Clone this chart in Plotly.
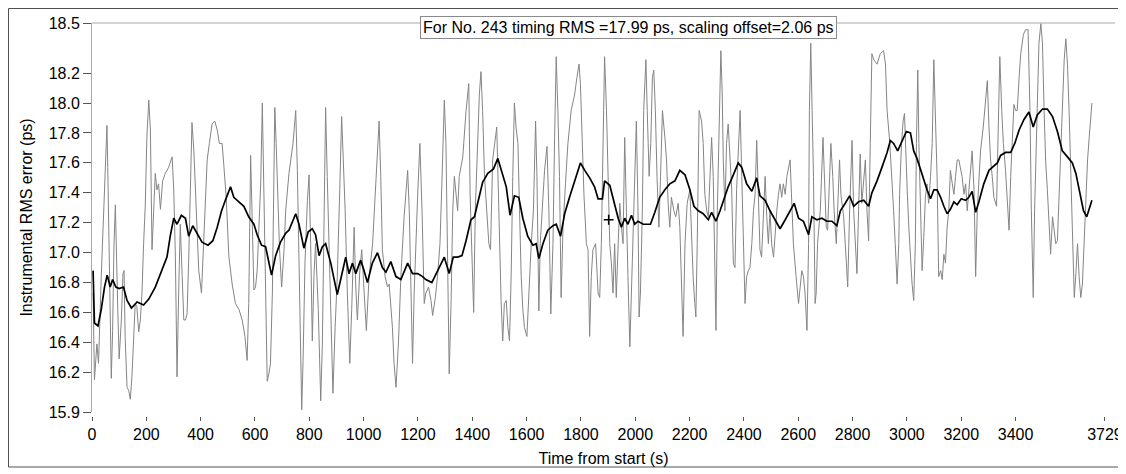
import plotly.graph_objects as go

# --- data ---
raw_t = [4, 9, 18, 24, 34, 39, 46, 51, 55, 58, 63, 71, 76, 81, 86, 90, 95, 100, 108, 114, 118, 122, 129, 135,
         141, 147, 153, 159, 165, 172, 178, 184, 190, 196, 202, 209, 215, 221, 227, 233, 239, 245, 252, 260,
         270, 282, 295, 301, 307, 313, 319, 325, 332, 338, 344, 350, 356, 362, 368, 375, 381, 387, 393, 403,
         411, 418, 424, 432, 442, 452, 461, 469, 479, 485, 494, 504, 516, 528, 541, 553, 563, 571, 577, 584,
         590, 596, 602, 608, 614, 621, 627, 633, 639, 645, 651, 657, 664, 670, 673, 678, 684, 690, 698, 707,
         713,
         725, 740, 750, 756, 762, 768, 772, 777, 784, 793, 799, 805, 811, 817, 823, 833, 842, 848, 854, 860,
         866, 873, 882, 887, 895, 903, 912, 919, 925, 932, 940, 949, 956, 965, 971, 977, 986, 993, 1002, 1010,
         1020, 1033, 1042, 1051, 1057, 1063, 1069, 1079, 1088, 1094, 1106, 1112, 1119, 1128, 1137, 1149, 1162,
         1168, 1174, 1180, 1186, 1192, 1199, 1207, 1215, 1223, 1229, 1239, 1248, 1254, 1264, 1272, 1281, 1288,
         1297, 1303, 1309, 1315, 1322, 1328, 1334, 1340, 1346, 1352, 1365, 1377, 1387, 1392, 1399, 1405, 1411,
         1420, 1426, 1432, 1438, 1445, 1453, 1461, 1467,
         1475, 1490, 1497, 1506, 1512, 1518, 1525, 1531, 1537, 1543, 1549, 1555, 1561, 1568, 1574, 1580, 1586,
         1592, 1601, 1608, 1617, 1625, 1633, 1638, 1645, 1650, 1657, 1666, 1675, 1682, 1689, 1697, 1703, 1709,
         1715, 1721, 1727, 1734, 1743, 1752, 1764, 1777, 1785, 1793, 1798, 1805, 1811, 1820, 1826, 1832, 1838,
         1844, 1854, 1863, 1869, 1875, 1881, 1887, 1894, 1900, 1906, 1912, 1918, 1924, 1930, 1937, 1943, 1949,
         1955, 1961, 1967, 1973, 1980, 1986, 1992, 1998, 2004, 2010, 2014, 2019, 2026, 2031, 2039, 2044, 2051,
         2057, 2063, 2068, 2074, 2080, 2087, 2093, 2100, 2109, 2115, 2121, 2127, 2133, 2142, 2149, 2158, 2164,
         2170, 2176, 2183, 2191,
         2201, 2207, 2213, 2219, 2223, 2228, 2235, 2244, 2250, 2256, 2263, 2269, 2275, 2281, 2287, 2293, 2297,
         2302, 2309, 2315, 2320, 2324, 2330, 2336, 2342, 2349, 2355, 2361, 2367, 2373, 2379, 2386, 2392, 2398,
         2404, 2410, 2416, 2422, 2429, 2435, 2441, 2447, 2453, 2459, 2465, 2472, 2478, 2484, 2490, 2496, 2502,
         2509, 2515, 2521, 2527, 2533, 2539, 2545, 2552, 2558, 2570, 2576, 2582, 2592, 2601, 2607, 2613, 2619,
         2625, 2632, 2638, 2641, 2646, 2651, 2656, 2662, 2666, 2671, 2681, 2691, 2697, 2703, 2708, 2715, 2720,
         2727, 2732, 2740, 2745, 2752, 2757, 2767, 2773, 2782, 2789, 2798, 2804, 2810, 2816, 2822, 2828, 2834,
         2841, 2847, 2853, 2859, 2865, 2871, 2878, 2890, 2902, 2914, 2921, 2927, 2937,
         2945, 2951, 2957, 2964, 2970, 2973, 2980, 2986, 2991, 2994, 3001, 3007, 3013, 3019, 3025, 3031, 3035,
         3040, 3044, 3050, 3056, 3062, 3068, 3074, 3080, 3087, 3093, 3099, 3105, 3111, 3117, 3124, 3130, 3136,
         3142, 3148, 3154, 3160, 3167, 3173, 3179, 3185, 3191, 3197, 3203, 3210, 3216, 3222, 3228, 3234, 3240,
         3247, 3253, 3259, 3265, 3271, 3281, 3290, 3296, 3302, 3308, 3314, 3320, 3330, 3335, 3342, 3349, 3355,
         3363, 3370, 3376, 3382, 3388, 3394, 3400, 3406, 3413, 3419, 3429, 3437, 3446, 3453, 3458, 3465, 3470,
         3478, 3486, 3493, 3499, 3505, 3511, 3517, 3523, 3529, 3536, 3542, 3548, 3554, 3560, 3566, 3572, 3579,
         3585, 3591, 3597, 3603, 3609, 3616, 3622, 3628, 3634, 3640, 3646, 3652, 3659, 3665, 3671, 3677, 3681]

raw_rms = [16.73, 16.15, 16.39, 16.26, 16.84, 17.08, 17.39, 17.71, 17.85, 17.57, 17.06, 16.16, 16.48, 17.06,
           17.32, 16.88, 16.61, 16.29, 16.55, 16.86, 16.88, 16.44, 16.10, 16.08, 16.02, 16.17, 16.44, 16.66,
           16.64, 16.47, 16.55, 16.73, 17.06, 17.31, 17.77, 18.02, 17.82, 17.02, 17.28, 17.53, 17.42, 17.46,
           17.29, 17.48, 17.53, 17.57, 17.64, 17.42, 16.97, 16.17, 16.73, 17.19, 16.84, 16.55, 16.55, 16.59,
           16.95, 17.46, 17.87, 17.68, 17.37, 17.06, 16.88, 16.73, 17.06, 17.39, 17.62, 17.73, 17.86, 17.88,
           17.82, 17.73, 17.73, 17.59, 17.37, 16.97, 16.79, 16.66, 16.62, 16.55, 16.44, 16.28, 16.66, 17.65,
           17.24, 16.75, 16.77, 16.88, 17.15, 17.46, 18.00, 17.37, 16.79, 16.14, 16.19, 16.26, 16.73, 17.51,
           17.97, 17.73, 17.37, 17.04, 16.77, 17.02, 17.28,
           17.53, 17.73, 17.95, 17.55, 16.93, 16.28, 15.95, 16.28, 16.93, 17.35, 17.52, 17.06, 16.41, 16.84,
           17.06, 16.62, 16.01, 16.39, 17.28, 17.97, 17.51, 17.06, 16.39, 16.06, 16.50, 16.84, 17.42, 17.91,
           17.62, 17.28, 16.73, 16.26, 16.62, 17.17, 16.77, 16.55, 16.88, 17.02, 16.73, 16.48, 16.84, 17.06,
           17.37, 17.73, 17.88, 17.51, 17.02, 16.84, 16.77, 16.79, 16.50, 16.26, 16.10, 16.39, 16.84, 17.24,
           17.55, 17.28, 16.68, 16.26, 16.73, 17.06, 17.39, 17.73, 17.28, 16.66, 16.73, 16.77, 16.68, 16.58,
           16.70, 16.84, 17.06, 17.46, 18.02, 17.73, 17.06, 16.19, 16.68, 17.28, 17.51, 17.37, 17.28, 17.51,
           17.64, 17.95, 18.13, 17.39, 16.86, 16.60, 17.28, 17.84, 18.06, 18.21, 17.95, 17.51, 17.28, 17.06,
           17.02,
           17.62, 17.84, 17.28, 16.68, 16.41, 16.66, 16.68, 16.50, 16.41, 16.84, 17.51, 18.00, 17.84, 17.73,
           17.28, 16.84, 16.62, 16.50, 16.44, 16.73, 17.06, 17.28, 17.88, 17.51, 16.61, 17.06, 17.28, 17.55,
           17.71, 17.28, 16.59, 17.06, 17.77, 18.31, 17.95, 17.51, 16.70, 17.17, 17.46, 17.73, 17.95, 18.06,
           18.17, 18.26, 18.13, 17.73, 17.39, 17.06, 17.02, 16.44, 16.84, 17.02, 17.06, 16.73, 16.70, 17.06,
           17.73, 18.31, 17.95, 17.51, 17.06, 16.93, 16.73, 17.06, 16.70, 17.06, 17.33, 17.17, 17.06, 17.77,
           17.39, 16.84, 16.37, 16.73, 17.06, 17.39, 17.88, 17.28, 16.57, 16.73, 17.28, 17.95, 18.29, 17.95,
           17.51, 17.73, 18.17, 18.22, 17.95, 17.51, 17.17, 17.51, 17.95, 17.77, 17.62, 17.33, 17.17, 17.37,
           17.28, 17.24, 17.33, 17.17, 16.84, 16.44, 17.06, 17.33,
           17.42, 17.06, 16.84, 16.66, 16.57, 17.06, 17.95, 17.88, 17.73, 17.39, 17.28, 17.24, 17.51, 17.77,
           17.51, 16.84, 16.48, 17.28, 17.95, 18.35, 18.06, 17.62, 17.28, 17.73, 17.86, 17.64, 17.42, 16.93,
           16.90, 17.42, 17.68, 17.95, 17.51, 17.06, 16.66, 16.84, 16.88, 16.90, 17.06, 17.28, 17.39, 17.75,
           17.37, 17.02, 16.97, 17.28, 17.51, 17.24, 17.06, 17.28, 17.06, 16.97, 17.15, 17.28, 17.39, 17.46,
           17.37, 17.46, 17.39, 17.51, 17.62, 17.39, 17.06, 16.84, 16.66, 16.77, 16.88, 16.84, 16.73, 16.48,
           17.06, 17.95, 18.40, 17.95, 17.51, 16.66, 16.73, 17.06, 17.28, 17.77, 17.51, 17.17, 17.15, 17.51,
           17.73, 17.51, 17.28, 17.06, 17.28, 17.62, 17.39, 17.24, 17.06, 16.77, 17.28, 17.75, 17.28, 17.06,
           16.86, 17.28, 17.66, 17.33, 17.46, 17.62, 17.28, 17.08, 17.73, 18.33, 18.29, 18.26, 18.33, 18.35,
           18.26, 17.95, 17.73,
           17.51, 17.28, 17.06, 16.79, 17.06, 17.39, 17.73, 17.88, 17.93, 17.73, 17.42, 17.17, 16.97, 16.79,
           16.68, 17.06, 17.73, 18.22, 17.73, 17.28, 16.88, 17.10, 17.37, 17.46, 17.33, 17.51, 17.73, 18.29,
           17.95, 17.51, 16.84, 16.88, 16.82, 16.99, 16.93, 17.17, 17.28, 17.55, 17.46, 17.39, 17.51, 17.62,
           17.62, 17.55, 17.51, 17.39, 17.46, 17.28, 17.42, 17.60, 17.68, 17.42, 16.84, 17.28, 17.51, 17.68,
           17.84, 18.06, 18.15, 17.84, 17.62, 17.51, 17.37, 17.31, 17.73, 18.31, 17.95, 17.73, 17.55, 17.28,
           17.15, 17.51, 17.73, 17.99, 17.95, 17.95, 18.17, 18.33, 18.46, 18.49, 18.49, 17.95, 17.28, 16.70,
           17.28, 17.95, 18.40, 18.53, 18.40, 17.95, 17.60, 17.42, 17.17, 16.99, 17.24, 17.15, 17.06, 17.08,
           17.37, 17.68, 17.95, 18.29, 18.43, 18.26, 17.95, 17.51, 17.06, 16.70, 16.86, 17.06, 16.84, 16.70,
           16.79, 17.06, 17.39, 17.62, 17.77, 17.95, 18.00]

avg_t = [4, 9, 22, 34, 46, 56, 67, 76, 88, 100, 116, 129, 145, 166, 190, 209, 233, 258, 276, 288, 301, 313,
         329, 344, 356, 371, 387, 405, 427, 445, 461, 477, 491, 510, 522, 541, 559, 577, 596, 608, 624, 639,
         661, 676, 694, 713,
         725, 750, 762, 780, 796, 811, 823, 836, 848, 860, 879, 903, 919, 934, 946, 959, 971, 989, 998, 1014,
         1032, 1051, 1069, 1082, 1100, 1119, 1137, 1162, 1180, 1199, 1217, 1229, 1251, 1272, 1297, 1315, 1330,
         1346, 1362, 1377, 1395, 1408, 1426, 1438, 1457,
         1463, 1478, 1494, 1506, 1525, 1539, 1555, 1571, 1586, 1604, 1623, 1635, 1645, 1660, 1678, 1697, 1709,
         1725, 1740, 1758, 1780, 1798, 1814, 1832, 1850, 1863, 1879, 1887, 1906, 1924, 1937, 1949, 1961, 1973,
         1986, 1998, 2010, 2029, 2056, 2072, 2090, 2109, 2127, 2146, 2164, 2183,
         2201, 2216, 2232, 2250, 2269, 2281, 2297, 2312, 2324, 2342, 2361, 2379, 2392, 2410, 2429, 2447, 2459,
         2478, 2496, 2515, 2533, 2552, 2570, 2585, 2601, 2619, 2638, 2650, 2668, 2687, 2705, 2724, 2742, 2755,
         2773, 2789, 2804, 2822, 2841, 2859, 2871, 2890, 2908, 2927,
         2939, 2951, 2966, 2982, 2998, 3013, 3025, 3037, 3050, 3062, 3074, 3087, 3099, 3111, 3124, 3136, 3148,
         3160, 3173, 3185, 3200, 3216, 3228, 3240, 3253, 3265, 3283, 3302, 3320, 3333, 3345, 3363, 3382, 3397,
         3413, 3431, 3449, 3465, 3480, 3499, 3517, 3536, 3554, 3572, 3591, 3609, 3622, 3634, 3650, 3662, 3675,
         3681]

avg_rms = [16.88, 16.53, 16.51, 16.62, 16.77, 16.85, 16.77, 16.82, 16.77, 16.76, 16.77, 16.68, 16.63, 16.67,
           16.65, 16.69, 16.77, 16.88, 16.97, 17.11, 17.23, 17.19, 17.25, 17.23, 17.11, 17.18, 17.13, 17.07,
           17.05, 17.08, 17.17, 17.28, 17.35, 17.44, 17.37, 17.34, 17.31, 17.24, 17.19, 17.12, 17.05, 17.04,
           16.85, 16.98, 17.07, 17.13,
           17.15, 17.26, 17.19, 17.03, 17.14, 17.16, 17.12, 16.98, 17.04, 17.06, 16.93, 16.72, 16.86, 16.97,
           16.86, 16.93, 16.86, 16.95, 16.90, 16.80, 16.93, 17.00, 16.90, 16.87, 16.94, 16.84, 16.82, 16.93,
           16.86, 16.86, 16.84, 16.82, 16.80, 16.88, 16.97, 16.86, 16.97, 16.97, 16.98, 17.08, 17.22, 17.24,
           17.37, 17.47, 17.53,
           17.54, 17.56, 17.63, 17.55, 17.44, 17.25, 17.38, 17.37, 17.23, 17.11, 17.05, 17.06, 16.96, 17.06,
           17.15, 17.18, 17.19, 17.11, 17.26, 17.37, 17.50, 17.60, 17.55, 17.50, 17.44, 17.36, 17.36, 17.48,
           17.45, 17.33, 17.23, 17.17, 17.23, 17.19, 17.25, 17.19, 17.21, 17.19, 17.19, 17.27, 17.37, 17.42,
           17.46, 17.48, 17.55, 17.52,
           17.42, 17.31, 17.28, 17.26, 17.22, 17.27, 17.21, 17.28, 17.35, 17.44, 17.52, 17.60, 17.57, 17.46,
           17.41, 17.50, 17.38, 17.35, 17.28, 17.22, 17.16, 17.22, 17.28, 17.33, 17.23, 17.21, 17.12, 17.24,
           17.22, 17.23, 17.21, 17.21, 17.18, 17.28, 17.33, 17.38, 17.31, 17.34, 17.35, 17.31, 17.40, 17.48,
           17.57, 17.67,
           17.75, 17.73, 17.68, 17.75, 17.81, 17.80, 17.68, 17.63, 17.55, 17.48, 17.42, 17.36, 17.42, 17.42,
           17.37, 17.31, 17.26, 17.29, 17.34, 17.32, 17.36, 17.35, 17.37, 17.41, 17.27, 17.34, 17.46, 17.55,
           17.58, 17.60, 17.65, 17.67, 17.67, 17.73, 17.82, 17.89, 17.94, 17.84, 17.92, 17.96, 17.96, 17.91,
           17.81, 17.68, 17.64, 17.60, 17.53, 17.42, 17.28, 17.24, 17.31, 17.35]

cursor_t = [1902]
cursor_rms = [17.22]

x_ticks = [0, 200, 400, 600, 800, 1000, 1200, 1400, 1600, 1800, 2000, 2200, 2400, 2600, 2800, 3000, 3200,
           3400, 3729]
y_ticks = [15.935, 16.2, 16.4, 16.6, 16.8, 17.0, 17.2, 17.4, 17.6, 17.8, 18.0, 18.2, 18.535]
y_labels = ['15.9', '16.2', '16.4', '16.6', '16.8', '17.0', '17.2', '17.4', '17.6', '17.8', '18.0', '18.2',
            '18.5']

# --- layout in pixels (the page puts the figure 8px in from the corner) ---
OFF = 8
W, H = 1126 - OFF, 474 - OFF
L, R, T, B = 84, 11, 15, 58
PW, PH = W - L - R, H - T - B
FONT = 'Liberation Sans, Arial, sans-serif'


def px_x(p):
    # window pixel -> paper x
    return (p - OFF - L) / PW


def px_y(p):
    # window pixel -> paper y
    return (H - B - (p - OFF)) / PH


fig = go.Figure()

fig.add_trace(go.Scatter(
    x=raw_t, y=raw_rms, mode='lines',
    line=dict(color='#858585', width=1),
    hoverinfo='skip', showlegend=False
))
fig.add_trace(go.Scatter(
    x=avg_t, y=avg_rms, mode='lines',
    line=dict(color='#000000', width=1.7),
    showlegend=False
))
fig.add_trace(go.Scatter(
    x=cursor_t, y=cursor_rms, mode='markers',
    marker=dict(symbol='cross-thin', size=7, line=dict(color='#000000', width=1.5)),
    showlegend=False
))

fig.update_layout(
    width=W, height=H,
    margin=dict(l=L, r=R, t=T, b=B, autoexpand=False),
    paper_bgcolor='white', plot_bgcolor='white',
    font=dict(family=FONT, size=16, color='#000000'),
    xaxis=dict(
        range=[0, 3766], anchor='free', position=0,
        tickvals=x_ticks, ticktext=[str(v) for v in x_ticks],
        ticks='outside', ticklen=4, tickcolor='#555555', tickwidth=1,
        showline=False, showgrid=False, zeroline=False,
        tickfont=dict(family=FONT, size=16),
        title=dict(text='Time from start (s)', font=dict(family=FONT, size=16), standoff=10),
    ),
    yaxis=dict(
        range=[15.935, 18.535], domain=[px_y(412), 1],
        tickvals=y_ticks, ticktext=y_labels,
        ticks='outside', ticklen=8, tickcolor='#555555', tickwidth=1,
        showline=True, linecolor='#a8a8a8', linewidth=1,
        showgrid=False, zeroline=False,
        tickfont=dict(family=FONT, size=16),
        title=dict(text='Instrumental RMS error (ps)', font=dict(family=FONT, size=16), standoff=12),
    ),
    shapes=[
        # top frame line of the plot area
        dict(type='line', xref='paper', yref='paper', x0=0, x1=1, y0=1, y1=1,
             line=dict(color='#a8a8a8', width=1), layer='below'),
        # outer border of the whole panel
        dict(type='rect', xref='paper', yref='paper',
             x0=px_x(8.5), x1=px_x(1124.5), y0=px_y(467), y1=px_y(8.5),
             line=dict(color='#505050', width=1), layer='below'),
    ],
    annotations=[dict(
        text='For No. 243 timing RMS =17.99 ps, scaling offset=2.06 ps',
        xref='paper', yref='paper', x=px_x(628), y=px_y(27.5),
        xanchor='center', yanchor='middle', showarrow=False,
        font=dict(family=FONT, size=16, color='#000000'),
        bgcolor='white', bordercolor='#8a8a8a', borderwidth=1, borderpad=2,
    )],
)

fig.write_html('out.html')
